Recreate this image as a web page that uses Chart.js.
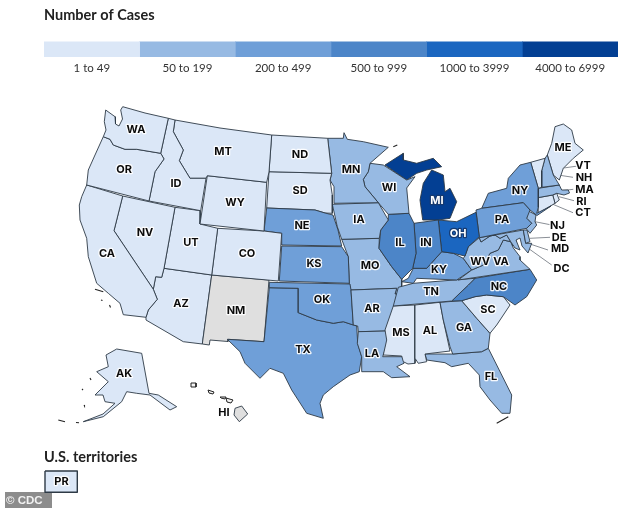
<!DOCTYPE html>
<html><head><meta charset="utf-8">
<style>html,body{margin:0;padding:0;background:#fff;overflow:hidden}canvas{position:absolute;display:block}</style>
<script src="https://cdn.jsdelivr.net/npm/chart.js@4"></script></head>
<body><canvas id="map" width="634" height="508" style="left:0;top:0"></canvas>
<canvas id="key" width="590" height="90" style="left:44px;top:0"></canvas>
<script>
// legend
const bandLabels=['1 to 49','50 to 199','200 to 499','500 to 999','1000 to 3999','4000 to 6999'];
const bandColors=['#dbe7f7','#97bae3','#6f9fd8','#4c85c8','#1b66c0','#033f93'];
const noData='#dfdfdf';
// choropleth membership
const band1=['WA','OR','CA','NV','ID','MT','WY','UT','CO','AZ','ND','SD','MS','AL','SC','AK','ME','VT','RI','CT','PR'];
const band2=['MN','IA','WI','MO','AR','LA','TN','VA','WV','GA','FL','NH','MA','NJ','MD','DE'];
const band3=['NE','KS','OK','TX','KY','NY','PA'];
const band4=['IL','IN','NC'];
const band5=['OH'];
const band6=['MI','MIU'];
const greyStates=['NM','HI'];
// state outlines, in map units
const WA=[122.7,106.7,145,113,168.3,118.3,160.7,153.3,136.7,149.3,125,149.3,113.3,145,110,139.3,103.3,136.7,106,130,104.3,121.7,105.7,110,115,116.7,115.5,124,119,126,122.5,119,120.7,110];
const OR=[103.3,136.7,110,139.3,113.3,145,125,149.3,136.7,149.3,160.7,153.3,164,159,155,171.7,149,201,86.7,185,88.3,170,95,155];
const CA=[86.7,185,122.7,196,114,230.7,153.3,289.3,157.3,299.3,148.3,310,146,317.3,123.3,314.7,120,303.3,108.3,293.3,96.7,283.3,88.3,256.7,86.7,238.3,80,220,79.3,205,81.7,196.7];
const NV=[122.7,196,175,207.3,164,268.3,161.7,277.3,155.7,276.7,153.3,289.3,114,230.7];
const ID=[168.3,118.3,175,120,173.3,131.7,183.3,150,179.3,160.7,190,178.3,206,178.3,200.7,210.7,149,201,155,171.7,164,159,160.7,153.3];
const MT=[175,120,220,128,271.7,135,269,172,266.7,182.3,207.3,175.7,206,178.3,190,178.3,179.3,160.7,183.3,150,173.3,131.7];
const WY=[207.3,175.7,266.7,182.3,264,231,200,224];
const UT=[175,207.3,200.7,210.7,200,224,217.7,228.3,211.7,275,164,268.3];
const CO=[217.7,228.3,264,231,281.7,233.3,278.3,281,211.7,275];
const NE=[266.7,208,315,210,325,213,333,215,338,230,341.7,246,281.7,245,281.7,233.3,264,231];
const ND=[271.7,135,327.7,138.3,331.7,173.3,269,171.7];
const SD=[269,171.7,331.7,173.3,330,180,332.3,195,332.3,213.3,325,213,315,210,266.7,208];
const MN=[327.7,138.3,343.3,138.3,344,132.7,347.3,139.3,363.3,141.7,388.3,147.3,370,163.3,368.3,171.7,363.3,179.3,365,186.7,378.3,202.7,334,203.3,334,186.7,330,180,331.7,173.3];
const IA=[332.3,204.3,378.3,202.7,388.3,220,380.7,230,379.3,238.3,341.7,239.3,337.3,226.7];
const WI=[370,163.3,383.3,165,406.7,180,415,176.7,406.7,188,409,213.3,388.3,214.3,378.3,202.7,365,186.7,363.3,179.3,368.3,171.7];
const IL=[388.3,214.3,409,213.3,414,223.3,416,253.3,412.7,268.3,401.7,279.3,391.7,266.7,379,248.3,380.7,230,388.3,220];
const IN=[414,223.3,438.3,220,441.7,251.7,426.7,268.3,412.7,268.3,416,253.3];
const MI=[422.7,220,420,200,423.3,183.3,431.7,170,443.3,175,445,191.7,450,188.3,456.7,201.7,450,218.3,438.3,220];
const MIU=[385,165,403.3,153.3,403.3,160,416.7,163.3,433.3,158.3,441.7,166.7,426.7,170,416.7,173.3,406.7,180];
const OH=[438.3,220,456.7,221.7,476,212.3,479.3,236.7,468.3,246.7,465,256,453.3,253.3,441.7,251.7];
const PA=[476,210,481.7,208.3,523.3,202.7,530,210,526.7,218.3,531.7,223.3,526.7,228.3,479.3,237.7];
const NY=[481.7,208.3,488.3,193.3,506.7,188.3,508.3,178.3,520,165,530.7,162.3,538.3,188.3,538.3,207.3,536.7,213.3,551,206,537,215.5,530,210,523.3,202.7];
const VT=[530.7,162.3,545,158.3,541.7,170.7,541.7,187.3,538.3,188.3];
const NH=[545,158.3,547.3,155,553.3,175,559.3,185,541.7,187.3,541.7,170.7];
const ME=[547.3,155,551.7,143.3,555,126.7,563.3,124,571.7,130,575,143.3,583.3,150,573.3,158.3,563.3,168.3,559.3,180,553.3,175];
const MA=[538.3,188.3,559.3,185,561.7,190,568.3,190,569.5,193,564,195,556.7,193.3,552.7,195,537.7,197.7];
const CT=[537.7,197.7,552.7,195,555,203.3,538.3,213.3];
const RI=[552.7,195,556.7,193.3,559.3,200,555,203.3];
const NJ=[526.7,210,536,215,535,221.7,536.7,225,530,233.3,526,228.3,531.7,223.3,526.7,218.3];
const DE=[523.3,230,527,230,530,241.7,525.7,243.3];
const MD=[479.3,237.7,523.3,230,525.7,243.3,531.7,243.3,528,253,522,246,520,238,516,240,520,250,515,248,510.7,241.7,506.7,235,500,238.3,495,235,490,236,481,242];
const WV=[465,256,468.3,246.7,479.3,237.7,481,242,490,236,495,235,500,238.3,506.7,235,510.7,241.7,503.3,240,498.3,250,490,253.3,483.3,265,471.7,270,463.3,258.3];
const VA=[458.3,280,471.7,270,483.3,265,490,253.3,498.3,250,503.3,240,510.7,241.7,513.3,248,520,256.7,520,260,530,269.3];
const KY=[401.7,281.7,408.3,278.3,413.3,268.3,426.7,268.3,441.7,251.7,453.3,253.3,463.3,258.3,471.7,270,456.7,280,416.7,278.3,413.3,283.3];
const TN=[398.3,287.3,413.3,283.3,475,278.3,468.3,285,451.7,301,393.3,306];
const NC=[475,278.3,530,269.3,536.7,280,526.7,296.7,515,305,503.3,296.7,486.7,295,475,296.7,461.7,300.7,451.7,301,468.3,285];
const SC=[461.7,300.7,475,296.7,486.7,295,503.3,296.7,510,305,496.7,325,490,333.3,476.7,318.3];
const GA=[440,302.3,461.7,300.7,476.7,318.3,490,333.3,488.3,348.3,481.7,351.7,452.7,354,450,346.7,443.3,320];
const AL=[415,305,440,302.3,443.3,320,450,351,425,354,426.7,361.7,418.3,363.3,415,358.3];
const MS=[393.3,306,415,305,415,358.3,415,363.3,408,364,403.3,361.7,401.7,356,383.3,355,386.7,340,385,330];
const LA=[358.3,331.7,386,331,388.3,340,382.7,356.7,403.3,356.7,404,363.3,396.7,366.7,410,376.7,391.7,377.7,383.3,371.7,361.7,371.7,361.7,356.7,357.3,343.3];
const AR=[351,290,396.7,288.3,395,294,400,294,386,331,358.3,331.7,357.7,326,353.3,325];
const OK=[269.3,282.3,350,284,351,290,353.3,325,343.3,321.7,333.3,323.3,316.7,320,298.3,312.7,298.3,288.3,269.3,287.7];
const TX=[269.3,287.7,298.3,288.3,298.3,312.7,316.7,320,333.3,323.3,343.3,321.7,356.7,326,357.7,343.3,361.7,356.7,359.3,371.7,350,375,333.3,386.7,323.3,395,320,403.3,323.3,418.3,306.7,413.3,291.7,390,283.3,373.3,270,368.3,260,378.3,245,363.3,240,351.7,227.3,339.3,264,341.7];
const NM=[211.7,275,269,280,264,341.7,228.3,339.3,228,341.5,210,340,209.3,345,202.3,344];
const AZ=[164,268.3,211.7,275,202.3,344,183.3,341.7,146,320,146,317.3,148.3,310,157.3,299.3,153.3,289.3,155.7,276.7,161.7,277.3];
const KS=[281.7,246,341.7,246.7,348.3,256.7,349.3,283.3,279.3,281];
const MO=[341.7,239.3,379.3,238.3,379,248.3,391.7,266.7,401.7,279.3,401.7,286,398,294,395,294,396.7,288.3,350,290,349.3,283.3,348.3,256.7];
const FL=[425,354,452.7,354,481.7,351.7,488.3,348.3,496.7,365,511.7,395,510,413.3,501.7,413.3,490,400,480,386.7,479.3,375,468.3,363.3,451.7,366.7,445,362.7,426.7,360];
const AK=[116.7,349,141.7,353.3,149,393.3,158.3,395,176.7,406.7,170,410,150,395,136.7,393.3,126.7,391.7,121.7,401.7,103.3,416.7,83.3,421.7,103,414,115,403.3,105,401.7,103,395,95,395,108.3,381.7,96.7,371.7,108.3,366.7,106,355];
const HI=[235,408.3,241.7,406,247.7,414,239.3,421.7,234,415];
const PR=[45,471,77.3,471,77.3,492.3,45,492.3];
const HIsmall=[[191,383,196,383,196,387,191,387],[208,390,214,392,213,394,209,393],[220,397,226,397,225,399,221,398],[226,398,233,400,231,403,227,402]];
const shapes={WA,OR,CA,NV,ID,MT,WY,UT,CO,NE,ND,SD,MN,IA,WI,IL,IN,MI,MIU,OH,PA,NY,VT,NH,ME,MA,CT,RI,NJ,DE,MD,WV,VA,KY,TN,NC,SC,GA,AL,MS,LA,AR,OK,TX,NM,AZ,KS,MO,FL,AK,HI,PR};
// small islands, as short strokes
const isletX=[[95,103.3],[101,102.5],[109.5,110.5],[58.3,65],[76,79],[90,91],[82,83],[84,84.5],[393.3,397.3],[496.7,508.3]];
const isletY=[[289.3,291.7],[300,300.5],[305,307.5],[420,421.7],[422.5,422.7],[378,380],[389,390],[405,406],[146.7,145],[423.3,416.7]];
// text labels on the map
const labelNames=['WA','OR','CA','NV','ID','MT','WY','UT','CO','AZ','NM','ND','SD','NE','KS','OK','TX','MN','IA','MO','AR','LA','MS','AL','TN','KY','IL','IN','WI','MI','OH','WV','VA','NC','SC','GA','FL','PA','NY','ME','AK','HI','PR','VT','NH','MA','RI','CT','NJ','DE','MD','DC'];
const labelX=[136,124,107,145,176,223,235,191,247,181,236,300,300,302,314,322,303,351,359,370,372,372,401,430,431,439,400,426,389,437,458,480,501,499,488,464,491,502,520,563,124,224,61.5,583,584,584.5,581.5,583,557.5,559,560,561.5];
const labelY=[130,170,254,233,184,152,203,243,254,304,311,155,191,226,264,300,350,170,220,266,309,354,333,331,292,270,243,243,188,201,234,262,262,287,310,328,377,220,191,148,374,413,482,166,178,189.5,201.5,213,226,237.5,249,268.5];
const whiteLabels=['MI','OH'];
const leaderX=[[577.7,538],[573,558],[573.3,553],[574,559],[573,546.7],[551.7,535],[550,530],[548,530],[551.7,526]];
const leaderY=[[166,171.7],[177.3,175],[189.3,191.7],[200.7,196.7],[212.7,201.7],[225,221.7],[237.3,238.3],[250,244],[265,246.7]];
const dcX=[513.3],dcY=[242.3];
const headingText='U.S. territories', creditText='© CDC';
const credit=[5,492,52,492,52,508,5,508];

const colourOf={};
band1.forEach(s=>colourOf[s]=bandColors[0]);band2.forEach(s=>colourOf[s]=bandColors[1]);band3.forEach(s=>colourOf[s]=bandColors[2]);
band4.forEach(s=>colourOf[s]=bandColors[3]);band5.forEach(s=>colourOf[s]=bandColors[4]);band6.forEach(s=>colourOf[s]=bandColors[5]);greyStates.forEach(s=>colourOf[s]=noData);

const pts=a=>{const o=[];for(let i=0;i<a.length;i+=2)o.push({x:a[i],y:a[i+1]});o.push({x:a[0],y:a[1]});return o;};
const poly=(label,a,fill,line,w)=>({type:'scatter',label,data:pts(a),showLine:true,fill:'shape',backgroundColor:fill,borderColor:line,borderWidth:w,pointRadius:0,tension:0,borderJoinStyle:'round'});
const stroke=(label,xs,ys,col,w)=>({type:'scatter',label,data:xs.map((x,j)=>({x,y:ys[j]})),showLine:true,borderColor:col,borderWidth:w,pointRadius:0});
const datasets=[];
Object.keys(shapes).forEach(k=>datasets.push(poly(k,shapes[k],colourOf[k],'#2e3a46',k==='PR'?1.4:0.9)));
HIsmall.forEach((a,i)=>datasets.push(poly('HI'+i,a,'#f4f4f4','#222',1)));
datasets.push(poly('credit',credit,'#8c8c8c','#8c8c8c',0));
isletX.forEach((xs,i)=>datasets.push(stroke('islet'+i,xs,isletY[i],'#222',1.1)));
leaderX.forEach((xs,i)=>datasets.push(stroke('lead'+i,xs,leaderY[i],'#8a8f96',1)));
datasets.push({type:'scatter',label:'DC',data:dcX.map((x,i)=>({x,y:dcY[i]})),pointRadius:3,backgroundColor:'#fff',borderColor:'#222',borderWidth:1.2});

const textPlugin={id:'mapText',afterDatasetsDraw(c){
  const g=c.ctx,X=c.scales.x,Y=c.scales.y;g.save();g.textBaseline='middle';g.lineJoin='round';
  g.textAlign='center';g.font='700 11px Inter, "Open Sans", sans-serif';
  labelNames.forEach((n,i)=>{const px=X.getPixelForValue(labelX[i]),py=Y.getPixelForValue(labelY[i]);const w=whiteLabels.includes(n);
    g.lineWidth=2.5;g.strokeStyle=w?'#163a70':'rgba(255,255,255,.9)';g.strokeText(n,px,py);g.fillStyle=w?'#fff':'#0b0b0b';g.fillText(n,px,py);});
  g.textAlign='left';g.font='700 14.5px Lato, sans-serif';g.fillStyle='#222';g.fillText(headingText,X.getPixelForValue(44),Y.getPixelForValue(457));
  g.font='700 11.5px "Liberation Sans", sans-serif';g.fillStyle='#f2f2f2';g.fillText(creditText,X.getPixelForValue(6),Y.getPixelForValue(500.5));
  g.restore();}};

new Chart(document.getElementById('map'),{type:'scatter',data:{datasets},plugins:[textPlugin],options:{
  responsive:false,animation:false,events:[],layout:{padding:0,autoPadding:false},
  plugins:{legend:{display:false},title:{display:false},tooltip:{enabled:false}},
  scales:{x:{type:'linear',min:0,max:634,display:false},y:{type:'linear',min:0,max:508,reverse:true,display:false}}}});

new Chart(document.getElementById('key'),{type:'bar',
  data:{labels:['Cases'],datasets:bandLabels.map((l,i)=>({label:l,data:[1],backgroundColor:bandColors[i],borderWidth:0}))},
  options:{indexAxis:'y',responsive:false,animation:false,events:[],
    layout:{padding:{left:0,right:16,top:0,bottom:13},autoPadding:false},
    plugins:{legend:{display:false},tooltip:{enabled:false},
      title:{display:true,text:'Number of Cases',align:'start',color:'#222',font:{family:'Lato, sans-serif',size:14.5,weight:'700'},padding:{top:7,bottom:17}}},
    scales:{
      y:{stacked:true,display:false},
      x:{stacked:true,min:0,max:6,border:{display:false},grid:{display:false,drawTicks:false},
        afterFit(a){a.height=20;a.paddingLeft=0;a.paddingRight=0;},
        ticks:{stepSize:0.5,autoSkip:false,maxRotation:0,padding:4,color:'#333',font:{family:'Lato, sans-serif',size:11.5},
          callback(v){return Number.isInteger(v)?'':bandLabels[Math.floor(v)];}}}},
    datasets:{bar:{barPercentage:1,categoryPercentage:1}}}});
</script></body></html>
